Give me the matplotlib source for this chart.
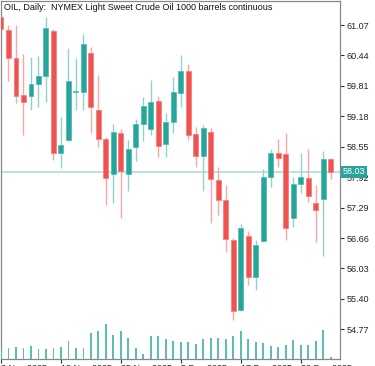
import numpy as np
import matplotlib
matplotlib.use("Agg")
import matplotlib.pyplot as plt

# daily OHLC
opens = [61.24, 60.97, 60.38, 59.62, 59.59, 59.84, 60.01, 60.95, 58.41, 58.69,
         59.68, 59.69, 60.50, 59.32, 58.72, 57.99, 58.84, 57.98, 58.55, 59.03,
         58.92, 59.50, 58.61, 59.06, 59.67, 60.12, 58.81, 58.36, 58.86, 57.86,
         57.45, 56.62, 55.17, 56.70, 55.86, 56.59, 57.92, 58.43, 58.39, 57.07,
         57.77, 57.90, 57.38, 57.46, 58.30]
highs = [61.25, 61.07, 61.07, 60.47, 60.41, 60.43, 61.23, 60.99, 59.17, 60.59,
         60.39, 60.88, 60.62, 60.04, 58.76, 59.03, 58.91, 58.69, 59.12, 59.57,
         59.93, 59.59, 59.24, 59.99, 60.45, 60.26, 58.96, 59.00, 58.93, 58.14,
         57.76, 56.65, 56.95, 56.80, 56.62, 58.08, 58.50, 58.71, 58.83, 57.92,
         58.43, 58.50, 57.76, 58.46, 58.32]
lows = [60.97, 59.92, 59.45, 58.79, 59.30, 59.37, 59.48, 58.28, 58.10, 58.66,
        59.30, 59.30, 58.84, 58.55, 57.34, 57.39, 57.07, 57.63, 58.25, 58.67,
        58.79, 58.34, 58.34, 58.84, 59.38, 58.69, 58.13, 57.63, 56.98, 57.14,
        56.38, 54.96, 55.15, 55.69, 55.58, 56.57, 57.71, 58.12, 56.62, 56.89,
        57.59, 57.41, 56.58, 56.29, 57.88]
closes = [60.98, 60.38, 59.59, 59.48, 59.84, 60.01, 61.00, 58.43, 58.59, 59.91,
          59.70, 60.67, 59.37, 58.72, 57.90, 58.86, 58.05, 58.50, 59.02, 59.39,
          59.47, 58.57, 59.06, 59.68, 60.12, 58.79, 58.36, 58.93, 57.88, 57.45,
          56.64, 55.15, 56.86, 55.86, 56.52, 57.92, 58.43, 58.32, 56.86, 57.78,
          57.93, 57.52, 57.25, 58.30, 58.03]
volumes = [8000, 10700, 12000, 11000, 13000, 10000, 9700, 11300, 12300, 18000,
           11000, 10700, 25700, 28300, 35300, 23700, 28000, 21300, 10700, 5000,
           22700, 22700, 19700, 18000, 16700, 17000, 15000, 20000, 21000, 20700,
           20000, 22700, 28300, 19700, 16700, 16000, 13300, 11700, 14300, 19000,
           14300, 14300, 18000, 29000, 2300]

date_labels = ["3 Nov 2025", "12 Nov 2025", "25 Nov 2025", "5 Dec 2025",
               "17 Dec 2025", "30 Dec 2025"]
date_pos = [0, 8, 16, 24, 32, 40]
price_ticks = [61.07, 60.44, 59.81, 59.18, 58.55, 57.92, 57.29, 56.66, 56.03, 55.40, 54.77]
last_price = 58.03

UP = "#26a69a"
DOWN = "#ef5350"
UP_WICK = "#8fd2ca"
DOWN_WICK = "#f6a7a6"

plt.rcParams['font.family'] = ['Liberation Sans', 'DejaVu Sans']

fig = plt.figure(figsize=(3.75, 3.66), dpi=100)
ax = fig.add_axes([1/375, 1 - 359/366, 339/375, 358/366])

x = np.arange(len(opens))
o = np.array(opens); c = np.array(closes)
h = np.array(highs); l = np.array(lows)
up = c >= o

ax.vlines(x[up], l[up], h[up], color=UP_WICK, lw=1.0, zorder=2)
ax.vlines(x[~up], l[~up], h[~up], color=DOWN_WICK, lw=1.0, zorder=2)
ax.bar(x[up], (c - o)[up], bottom=o[up], width=0.66, color=UP,
       edgecolor="#4fb8ad", lw=0.5, zorder=3)
ax.bar(x[~up], (o - c)[~up], bottom=c[~up], width=0.66, color=DOWN,
       edgecolor="#f47a78", lw=0.5, zorder=3)

ax.axhline(last_price, color="#b4e1dc", lw=1.3, zorder=1)

ax.set_xlim(0.03, 45.23)
ax.set_ylim(54.155, 61.567)

# volumes on their own scale at the bottom
axv = ax.twinx()
axv.bar(x, volumes, width=0.25, color="#5cbdb2", zorder=2)
axv.set_ylim(0, 358000)
axv.set_yticks([])
axv.set_xlim(0.03, 45.23)
for s in axv.spines.values():
    s.set_visible(False)

ax.yaxis.tick_right()
ax.set_yticks(price_ticks)
ax.set_yticklabels(["%.2f" % v for v in price_ticks])
ax.set_xticks(date_pos)
ax.set_xticklabels(date_labels, ha="left")
ax.tick_params(axis="y", length=3, width=0.8, pad=2, labelsize=6.5,
               colors="#333333", labelcolor="#222222")
ax.tick_params(axis="x", length=3, width=0.8, pad=0.5, labelsize=6.5,
               colors="#333333", labelcolor="#222222")
for s in ax.spines.values():
    s.set_color("#888888")
    s.set_linewidth(0.9)

ax.annotate("%.2f" % last_price, xy=(1, last_price), xycoords=("axes fraction", "data"),
            xytext=(2.2, 0), textcoords="offset points", ha="left", va="center",
            fontsize=6.5, color="white",
            bbox=dict(boxstyle="square,pad=0.2", fc=UP, ec="none"), zorder=5,
            annotation_clip=False)

fig.text(4/375, 1 - 8/366, "OIL, Daily:  NYMEX Light Sweet Crude Oil 1000 barrels continuous",
         fontsize=6.5, va="center", ha="left", color="#111111")

fig.savefig("out.png", dpi=100)
